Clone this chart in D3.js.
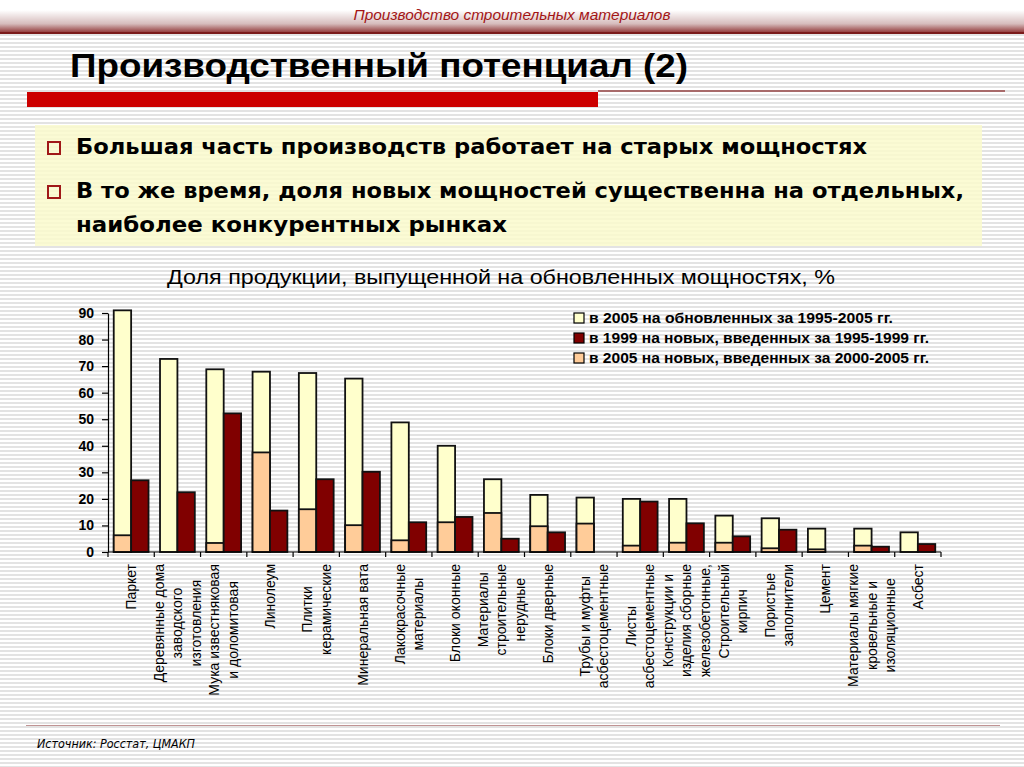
<!DOCTYPE html>
<html><head><meta charset="utf-8">
<script src="https://cdn.jsdelivr.net/npm/d3@7/dist/d3.min.js"></script>
<style>body{margin:0;background:#fff;} svg{display:block}</style>
</head><body>
<svg id="c" width="1024" height="767"></svg>
<script>
// ---- data ----
const categories = [
  "Паркет",
  "Деревянные дома|заводского|изготовления",
  "Мука известняковая|и доломитовая",
  "Линолеум",
  "Плитки|керамические",
  "Минеральная вата",
  "Лакокрасочные|материалы",
  "Блоки оконные",
  "Материалы|строительные|нерудные",
  "Блоки дверные",
  "Трубы и муфты|асбестоцементные",
  "Листы|асбестоцементные",
  "Конструкции и|изделия сборные|железобетонные,",
  "Строительный|кирпич",
  "Пористые|заполнители",
  "Цемент",
  "Материалы мягкие|кровельные и|изоляционные",
  "Асбест"
];
const renewed2005 = [91, 72.7, 68.8, 67.9, 67.4, 65.3, 48.8, 40, 27.4, 21.5, 20.5, 20, 20, 13.7, 12.7, 8.8, 8.8, 7.4];
const new1999     = [27, 22.5, 52.2, 15.6, 27.4, 30.2, 11.2, 13.2, 5, 7.4, 0, 19, 10.8, 5.9, 8.4, 0, 2, 3];
const new2005     = [6.3, 0, 3.4, 37.5, 16.1, 10.1, 4.4, 11.2, 14.7, 9.7, 10.7, 2.4, 3.5, 3.5, 1.4, 1.0, 2.4, 0];
const yTicks = [0, 10, 20, 30, 40, 50, 60, 70, 80, 90];
const seriesNames = [
  "в 2005 на обновленных за 1995-2005 гг.",
  "в 1999 на новых, введенных за 1995-1999 гг.",
  "в 2005 на новых, введенных за 2000-2005 гг."
];
const seriesColors = ["#ffffcc", "#800000", "#ffcc99"];
const headerText = "Производство строительных материалов";
const titleText = "Производственный потенциал (2)";
const bullets = [
  ["Большая часть производств работает на старых мощностях"],
  ["В то же время, доля новых мощностей существенна на отдельных,", "наиболее конкурентных рынках"]
];
const chartTitle = "Доля продукции, выпущенной на обновленных мощностях, %";
const sourceText = "Источник: Росстат, ЦМАКП";

// ---- drawing ----
const svg = d3.select("#c");
const defs = svg.append("defs");
const pat = defs.append("pattern").attr("id","stripes").attr("patternUnits","userSpaceOnUse")
  .attr("width", 8).attr("height", 4);
pat.append("rect").attr("width",8).attr("height",4).attr("fill","#ffffff");
pat.append("rect").attr("y",2).attr("width",8).attr("height",2).attr("fill","#e3e3e3");

const grad = defs.append("linearGradient").attr("id","hdr").attr("x1",0).attr("y1",0).attr("x2",0).attr("y2",1);
grad.append("stop").attr("offset","0%").attr("stop-color","#ffffff");
grad.append("stop").attr("offset","30%").attr("stop-color","#ffffff");
grad.append("stop").attr("offset","70%").attr("stop-color","#d6bcbc");
grad.append("stop").attr("offset","100%").attr("stop-color","#862222");

svg.append("rect").attr("width",1024).attr("height",767).attr("fill","url(#stripes)");
svg.append("rect").attr("width",1024).attr("height",34).attr("fill","url(#hdr)");
svg.append("rect").attr("y",32).attr("width",1024).attr("height",2).attr("fill","#7a1a1a");

svg.append("text").attr("x",512).attr("y",20).attr("text-anchor","middle")
  .attr("font-family","'Liberation Sans Narrow','Liberation Sans',Arial,sans-serif")
  .attr("font-style","italic").attr("font-size",15).attr("fill","#a31515")
  .attr("textLength",317).attr("lengthAdjust","spacingAndGlyphs").text(headerText);

svg.append("text").attr("x",70).attr("y",77)
  .attr("font-family","'Liberation Sans Narrow','Liberation Sans',Arial,sans-serif")
  .attr("font-weight","bold").attr("font-size",34).attr("fill","#000")
  .attr("textLength",618).attr("lengthAdjust","spacingAndGlyphs").text(titleText);

svg.append("rect").attr("x",598).attr("y",90).attr("width",407).attr("height",2).attr("fill","#a86a6a");
svg.append("rect").attr("x",27).attr("y",92).attr("width",571).attr("height",15).attr("fill","#cc0000");

// bullet box
svg.append("rect").attr("x",35).attr("y",125).attr("width",947).attr("height",121)
  .attr("fill","#fafacc").attr("opacity",0.85);
const bulletLines = [[154, 791, true, bullets[0][0]], [198, 888, true, bullets[1][0]], [232, 431, false, bullets[1][1]]];
bulletLines.forEach(([yb, w, sq, t]) => {
  if (sq) svg.append("rect").attr("x",48).attr("y",yb-12).attr("width",12).attr("height",12)
    .attr("fill","none").attr("stroke","#a01818").attr("stroke-width",2);
  svg.append("text").attr("x",76).attr("y",yb)
    .attr("font-family","'DejaVu Sans',Verdana,sans-serif").attr("font-weight","bold")
    .attr("font-size",20.5).attr("fill","#000")
    .attr("textLength",w).attr("lengthAdjust","spacingAndGlyphs").text(t);
});

svg.append("text").attr("x",501).attr("y",284).attr("text-anchor","middle")
  .attr("font-family","'Liberation Sans Narrow','Liberation Sans',Arial,sans-serif")
  .attr("font-size",21).attr("fill","#000")
  .attr("textLength",668).attr("lengthAdjust","spacingAndGlyphs").text(chartTitle);

// chart
const x0 = 108, x1 = 941, yBase = 552, yTop = 313;
const x = d3.scaleBand().domain(d3.range(categories.length)).range([x0, x1]).paddingInner(0).paddingOuter(0);
const xs = d3.scaleBand().domain([0,1]).range([0, x.bandwidth()]).paddingInner(0).paddingOuter(0.33);
const y = d3.scaleLinear().domain([0, 90]).range([yBase, yTop]);

const g = svg.append("g");
const idx = d3.range(categories.length);
g.selectAll(".ren").data(idx.filter(i => renewed2005[i] > 0)).join("rect")
  .attr("x", i => x(i) + xs(0)).attr("width", xs.bandwidth())
  .attr("y", i => y(renewed2005[i])).attr("height", i => yBase - y(renewed2005[i]))
  .attr("fill", seriesColors[0]).attr("stroke","#111").attr("stroke-width",1.8);
g.selectAll(".n05").data(idx.filter(i => new2005[i] > 0)).join("rect")
  .attr("x", i => x(i) + xs(0)).attr("width", xs.bandwidth())
  .attr("y", i => y(new2005[i])).attr("height", i => yBase - y(new2005[i]))
  .attr("fill", seriesColors[2]).attr("stroke","#111").attr("stroke-width",1.8);
g.selectAll(".n99").data(idx.filter(i => new1999[i] > 0)).join("rect")
  .attr("x", i => x(i) + xs(1)).attr("width", xs.bandwidth())
  .attr("y", i => y(new1999[i])).attr("height", i => yBase - y(new1999[i]))
  .attr("fill", seriesColors[1]).attr("stroke","#111").attr("stroke-width",1.8);

// y axis
const yAxis = svg.append("g").attr("transform", `translate(${x0},0)`)
  .call(d3.axisLeft(y).tickValues(yTicks).tickSize(6).tickPadding(8).tickSizeOuter(0));
yAxis.select(".domain").attr("stroke","#000").attr("stroke-width",1.2);
yAxis.selectAll(".tick line").attr("stroke","#000").attr("stroke-width",1.2);
yAxis.selectAll("text").attr("font-family","'Liberation Sans',Arial,sans-serif")
  .attr("font-weight","bold").attr("font-size",14).attr("fill","#000");

// x axis
svg.append("line").attr("x1",x0).attr("x2",x1).attr("y1",yBase).attr("y2",yBase)
  .attr("stroke","#000").attr("stroke-width",1.2);
const bounds = idx.map(i => x(i)).concat([x1]);
svg.selectAll(".xt").data(bounds).join("line")
  .attr("x1", d => d).attr("x2", d => d).attr("y1", yBase).attr("y2", yBase + 5)
  .attr("stroke","#000").attr("stroke-width",1.2);

// x labels
const labTop = 564, lineGap = 18.5;
categories.forEach((c, i) => {
  const lines = c.split("|");
  const cx = x(i) + x.bandwidth()/2;
  const grp = svg.append("g");
  const texts = lines.map((ln, k) => grp.append("text")
    .attr("font-family","'Liberation Sans',Arial,sans-serif").attr("font-size",14).attr("fill","#000")
    .attr("text-anchor","middle").attr("dominant-baseline","central").text(ln));
  const maxW = d3.max(texts, t => t.node().getComputedTextLength());
  const cy = labTop + maxW/2;
  texts.forEach((t, k) => {
    const lx = cx + (k - (lines.length-1)/2) * lineGap;
    t.attr("transform", `translate(${lx},${cy}) rotate(-90)`);
  });
});

// legend
const lg = svg.append("g");
const legW = [304, 340, 340];
seriesNames.forEach((s, k) => {
  const cy = 318 + k*20;
  lg.append("rect").attr("x",574).attr("y",cy-5).attr("width",10).attr("height",10)
    .attr("fill",seriesColors[k]).attr("stroke","#000").attr("stroke-width",1.2);
  lg.append("text").attr("x",589).attr("y",cy+5)
    .attr("font-family","'Liberation Sans',Arial,sans-serif").attr("font-weight","bold")
    .attr("font-size",14.5).attr("fill","#000")
    .attr("textLength",legW[k]).attr("lengthAdjust","spacingAndGlyphs").text(s);
});

// footer
svg.append("rect").attr("x",26).attr("y",725).attr("width",974).attr("height",1).attr("fill","#c09494");
svg.append("text").attr("x",37).attr("y",748)
  .attr("font-family","'DejaVu Sans',Verdana,sans-serif").attr("font-style","italic")
  .attr("font-size",12).attr("fill","#000")
  .attr("textLength",158).attr("lengthAdjust","spacingAndGlyphs").text(sourceText);
</script>
</body></html>
